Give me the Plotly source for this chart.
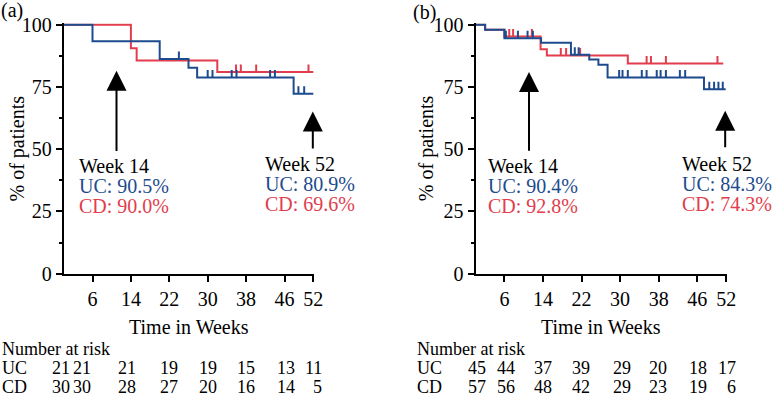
import plotly.graph_objects as go

# ---------------- data ----------------
# Panel (a)
a_uc_times = [0, 6, 20, 26, 27.8, 47.9]
a_uc_surv = [100, 93.4, 86.2, 82.7, 78.8, 72.3]
a_uc_end = 52
a_uc_cens = [24, 30, 31, 35, 36, 43, 44, 48.9, 50.1]

a_cd_times = [0, 14, 15.2, 32]
a_cd_surv = [100, 90.5, 85.6, 81.0]
a_cd_end = 52
a_cd_cens = [35.9, 36.9, 40.1, 51]

# Panel (b)
b_uc_times = [0, 2, 6, 13.6, 19.8, 23.6, 25.5, 27.4, 47.4]
b_uc_surv = [100, 98.0, 94.6, 92.7, 87.9, 86.0, 83.9, 78.8, 74.1]
b_uc_end = 51.9
b_uc_cens = [6.3, 8.8, 10.8, 11.9, 20.6, 21.4, 29.8, 30.5, 31.6, 34.5, 35.5,
             37.6, 38.4, 39.5, 42.4, 43.5, 48.5, 49.5, 50.4, 51.3]

b_cd_times = [0, 2, 6, 13.5, 14.8, 31.6]
b_cd_surv = [100, 98.0, 95.3, 90.1, 87.6, 84.4]
b_cd_end = 51.4
b_cd_cens = [7.0, 7.8, 11.7, 17.7, 18.8, 21.7, 35.5, 36.4, 39.5, 50.2]

x_ticks = [6, 14, 22, 30, 38, 46, 52]
y_ticks = [0, 25, 50, 75, 100]
y_minor = [12.5, 37.5, 62.5, 87.5]

risk_a_uc = [21, 21, 21, 19, 19, 15, 13, 11]
risk_a_cd = [30, 30, 28, 27, 20, 16, 14, 5]
risk_b_uc = [45, 44, 37, 39, 29, 20, 18, 17]
risk_b_cd = [57, 56, 48, 42, 29, 23, 19, 6]

a_wk14 = ["Week 14", "UC: 90.5%", "CD: 90.0%"]
a_wk52 = ["Week 52", "UC: 80.9%", "CD: 69.6%"]
b_wk14 = ["Week 14", "UC: 90.4%", "CD: 92.8%"]
b_wk52 = ["Week 52", "UC: 84.3%", "CD: 74.3%"]

# ---------------- layout constants ----------------
W, H = 775, 401
BLUE = "#1d4b8e"
RED = "#e23d4d"
FONT = "Liberation Serif"
FS = 20
FS_RISK = 18
TICK_H = 3.0
XMAX = 52.2

# column right-edge positions (pixels) for risk table
risk_px_a = [70.5, 91.7, 137.3, 179.3, 218.3, 256.0, 296.0, 322.7]
risk_px_b = [486.7, 516.0, 552.7, 591.0, 631.7, 668.3, 708.3, 736.7]

xa0, xa_pw = 63.7, 4.80
xb0, xb_pw = 475.5, 4.82
xdom_a = [xa0 / W, (xa0 + XMAX * xa_pw) / W]
xdom_b = [xb0 / W, (xb0 + XMAX * xb_pw) / W]
ydom = [1 - 273.7 / H, 1 - 23.2 / H]


def step_xy(times, surv, end):
    return times + [end], surv + [surv[-1]]


def cens_xy(times, surv, cens):
    xs, ys = [], []
    for c in cens:
        lvl = surv[0]
        for t, s in zip(times, surv):
            if t <= c:
                lvl = s
        xs += [c, c, None]
        ys += [lvl, lvl + TICK_H, None]
    return xs, ys


fig = go.Figure()


def add_curve(times, surv, end, cens, color, xa, ya):
    x, y = step_xy(times, surv, end)
    fig.add_trace(go.Scatter(x=x, y=y, mode="lines", line=dict(color=color, width=2, shape="hv"),
                             xaxis=xa, yaxis=ya, showlegend=False, hoverinfo="skip"))
    cx, cy = cens_xy(times, surv, cens)
    fig.add_trace(go.Scatter(x=cx, y=cy, mode="lines", line=dict(color=color, width=2),
                             xaxis=xa, yaxis=ya, showlegend=False, hoverinfo="skip"))


add_curve(a_cd_times, a_cd_surv, a_cd_end, a_cd_cens, RED, "x", "y")
add_curve(a_uc_times, a_uc_surv, a_uc_end, a_uc_cens, BLUE, "x", "y")
add_curve(b_cd_times, b_cd_surv, b_cd_end, b_cd_cens, RED, "x2", "y2")
add_curve(b_uc_times, b_uc_surv, b_uc_end, b_uc_cens, BLUE, "x2", "y2")

xaxis_common = dict(range=[0, XMAX], tickvals=x_ticks, ticks="outside", ticklen=6, tickwidth=2,
                    tickcolor="black", showline=True, linecolor="black", linewidth=2,
                    showgrid=False, zeroline=False, automargin=False,
                    tickfont=dict(family=FONT, size=FS, color="black"))
yaxis_common = dict(range=[0, 100.6], tickvals=y_ticks, ticks="outside", ticklen=6, tickwidth=2,
                    tickcolor="black", showline=True, linecolor="black", linewidth=2,
                    showgrid=False, zeroline=False, automargin=False,
                    tickfont=dict(family=FONT, size=FS, color="black"),
                    minor=dict(tickvals=y_minor, ticks="outside", ticklen=3, tickwidth=2,
                               tickcolor="black", showgrid=False),
                    domain=ydom)

fig.update_layout(
    width=W, height=H, margin=dict(l=0, r=0, t=0, b=0, pad=0, autoexpand=False),
    paper_bgcolor="white", plot_bgcolor="white",
    font=dict(family=FONT, size=FS, color="black"),
    xaxis=dict(domain=xdom_a, anchor="y", **xaxis_common),
    yaxis=dict(anchor="x", **yaxis_common),
    xaxis2=dict(domain=xdom_b, anchor="y2", **xaxis_common),
    yaxis2=dict(anchor="x2", **yaxis_common),
)

ann = []


def txt(text, x, y, xref, yref, xanchor="left", color="black", yanchor="middle", size=FS):
    ann.append(dict(text=text, x=x, y=y, xref=xref, yref=yref, showarrow=False,
                    xanchor=xanchor, yanchor=yanchor, borderpad=0,
                    font=dict(family=FONT, size=size, color=color)))


def arrow(x, tip, tail, xref, yref):
    ann.append(dict(text="", x=x, y=tip, ax=x, ay=tail, xref=xref, yref=yref,
                    axref=xref, ayref=yref, showarrow=True, arrowhead=2, arrowsize=2.0,
                    arrowwidth=2, arrowcolor="black", standoff=0, startstandoff=0))


# panel labels
txt("(a)", 0, 1 - 11 / H, "paper", "paper")
txt("(b)", 412 / W, 1 - 12 / H, "paper", "paper")

# y titles
for xp in [17 / W, 426.7 / W]:
    ann.append(dict(text="% of patients", x=xp, y=(ydom[0] + ydom[1]) / 2, xref="paper", yref="paper",
                    showarrow=False, textangle=-90, xanchor="center", yanchor="middle",
                    font=dict(family=FONT, size=FS, color="black")))

# x titles
txt("Time in Weeks", 26, 1 - 326.7 / H, "x", "paper", xanchor="center")
txt("Time in Weeks", 26, 1 - 326.7 / H, "x2", "paper", xanchor="center")

# arrows
arrow(11, 81.5, 48.7, "x", "y")
arrow(51.9, 65.1, 49.7, "x", "y")
arrow(11.1, 81.0, 48.8, "x2", "y2")
arrow(51.8, 65.4, 50.2, "x2", "y2")

# annotation blocks (pixel rows converted to y-axis units)
def px_to_y(py):
    return (273.7 - py) / ((273.7 - 23.2) / 100.6)


colors3 = ["black", BLUE, RED]
ys14 = [px_to_y(p) for p in (165.8, 186.0, 206.3)]
ys52 = [px_to_y(p) for p in (163.8, 184.0, 204.3)]
for lines, xw, ys, xr, yr in [(a_wk14, 2.9, ys14, "x", "y"), (a_wk52, 41.7, ys52, "x", "y"),
                              (b_wk14, 2.45, ys14, "x2", "y2"), (b_wk52, 42.6, ys52, "x2", "y2")]:
    for t, yv, c in zip(lines, ys, colors3):
        txt(t, xw, yv, xr, yr, color=c)

# risk tables
y_head, y_uc, y_cd = 1 - 348.8 / H, 1 - 368.3 / H, 1 - 387.2 / H
for left in [1, 416]:
    txt("Number at risk", left / W, y_head, "paper", "paper", size=FS_RISK)
    txt("UC", left / W, y_uc, "paper", "paper", size=FS_RISK)
    txt("CD", left / W, y_cd, "paper", "paper", size=FS_RISK)
for vals_uc, vals_cd, cols in [(risk_a_uc, risk_a_cd, risk_px_a),
                               (risk_b_uc, risk_b_cd, risk_px_b)]:
    for vu, vc, cx in zip(vals_uc, vals_cd, cols):
        txt(str(vu), cx / W, y_uc, "paper", "paper", xanchor="right", size=FS_RISK)
        txt(str(vc), cx / W, y_cd, "paper", "paper", xanchor="right", size=FS_RISK)

fig.update_layout(annotations=ann)
fig.write_html("out.html", config={"displayModeBar": False},
               post_script="document.body.style.margin='0';document.body.style.padding='0';")
